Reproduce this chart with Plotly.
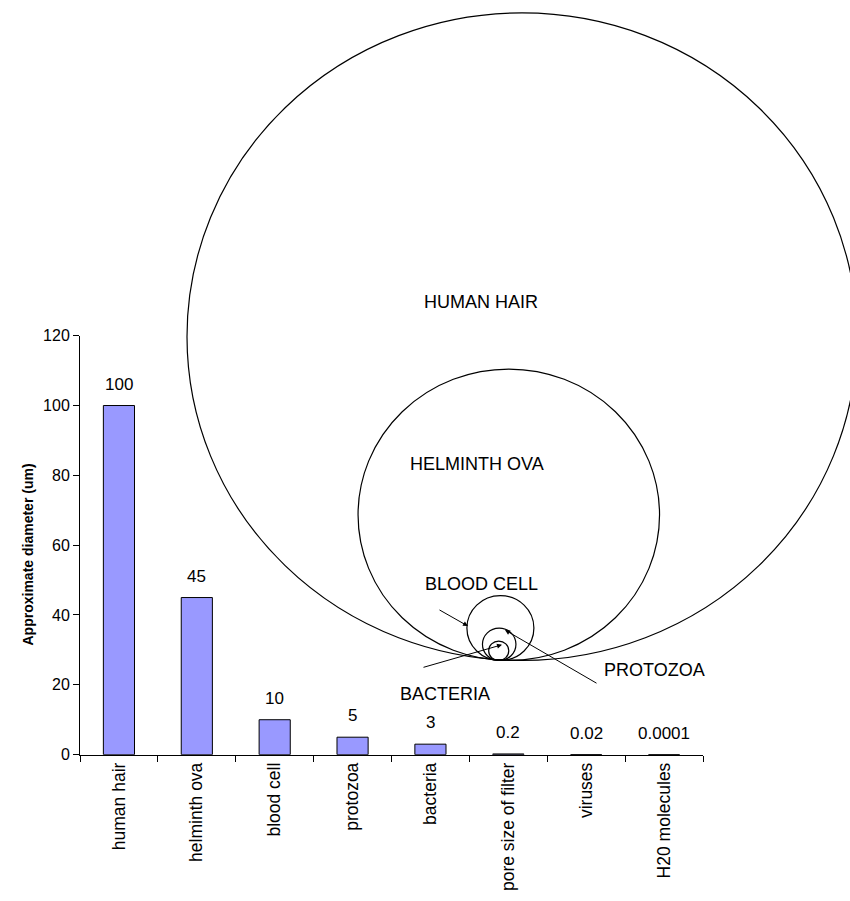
import plotly.graph_objects as go

# ---------------- data ----------------
categories = ["human hair", "helminth ova", "blood cell", "protozoa", "bacteria",
              "pore size of filter", "viruses", "H20 molecules"]
diameters = [100, 45, 10, 5, 3, 0.2, 0.02, 0.0001]
value_labels = ["100", "45", "10", "5", "3", "0.2", "0.02", "0.0001"]
circle_names = ["HUMAN HAIR", "HELMINTH OVA", "BLOOD CELL", "PROTOZOA", "BACTERIA"]
circle_sizes = diameters[:5]
y_ticks = [0, 20, 40, 60, 80, 100, 120]

# ---------------- layout helpers (pixels -> paper) ----------------
W, H = 850, 901
def px(x):
    return x / W
def py(y):
    return 1 - y / H

FONT = "Arial, Liberation Sans, sans-serif"

fig = go.Figure()
fig.add_trace(go.Bar(
    x=categories, y=diameters,
    marker=dict(color="#9999FF", line=dict(color="black", width=1)),
    width=0.4, hoverinfo="x+y",
))

# value labels above bars
annotations = []
for c, v, t in zip(categories, diameters, value_labels):
    annotations.append(dict(x=c, y=v, xref="x", yref="y", text=t, showarrow=False,
                            yanchor="bottom", yshift=10,
                            font=dict(family=FONT, size=17, color="black")))

# circles (illustration), sized from the diameters
sx, sy = 6.7, 6.6
bottom = 665
shapes = []
for name, d in zip(circle_names, circle_sizes):
    cx = 498 + 0.24 * d
    w, h = d * sx, d * sy
    shapes.append(dict(type="circle", xref="paper", yref="paper",
                       x0=px(cx - w / 2), x1=px(cx + w / 2),
                       y0=py(bottom), y1=py(bottom - h),
                       line=dict(color="black", width=1.2), layer="above"))

label_pos = {"HUMAN HAIR": (481, 300), "HELMINTH OVA": (477, 465),
             "BLOOD CELL": (482, 587), "PROTOZOA": (654, 675), "BACTERIA": (445, 699)}
for name in circle_names:
    x, y = label_pos[name]
    annotations.append(dict(x=px(x), y=py(y), xref="paper", yref="paper", text=name,
                            showarrow=False, xanchor="center", yanchor="middle",
                            font=dict(family=FONT, size=18, color="black")))

arrows = [((468, 630), (438, 613)), ((505, 634), (598, 688)), ((502, 649), (422, 672))]
for (hx, hy), (tx, ty) in arrows:
    annotations.append(dict(x=px(hx), y=py(hy), xref="paper", yref="paper", text="",
                            showarrow=True, ax=tx - hx, ay=ty - hy,
                            arrowhead=2, arrowsize=1, arrowwidth=1, arrowcolor="black",
                            standoff=0, startstandoff=0))

annotations.append(dict(x=px(18), y=py(557), xref="paper", yref="paper",
                        text="<b>Approximate diameter (um)</b>", textangle=-90,
                        showarrow=False, font=dict(family=FONT, size=14, color="black")))

fig.update_layout(
    width=W, height=H, margin=dict(l=0, r=0, t=0, b=0),
    paper_bgcolor="white", plot_bgcolor="white", showlegend=False,
    shapes=shapes, annotations=annotations,
    xaxis=dict(domain=[px(80), px(703)], type="category", showline=True, linecolor="black",
               linewidth=1, ticks="outside", tickson="boundaries", ticklen=6,
               tickcolor="black", tickangle=-90, showgrid=False,
               tickfont=dict(family=FONT, size=17.5, color="black")),
    yaxis=dict(domain=[py(761), py(334)], range=[0, 120], tickvals=y_ticks,
               showline=True, linecolor="black", linewidth=1, ticks="outside",
               ticklen=6, tickcolor="black", showgrid=False, zeroline=False,
               tickfont=dict(family=FONT, size=16, color="black")),
)

fig.write_html("out.html", config={"displayModeBar": False},
               post_script="document.body.style.margin='0';document.body.style.overflow='hidden';")
